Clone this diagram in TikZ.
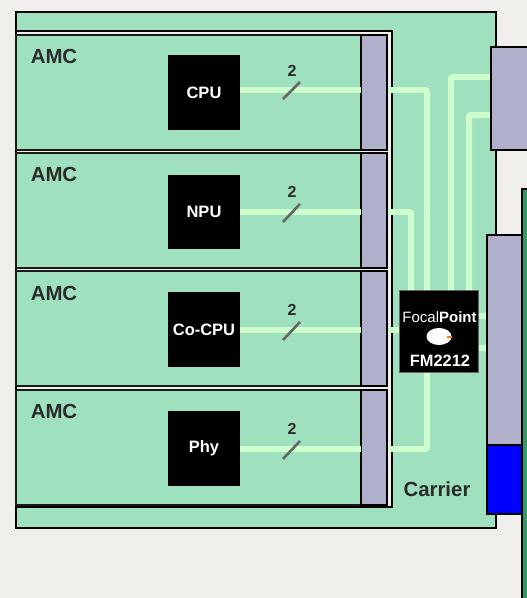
\documentclass[tikz,border=0pt]{standalone}
\usepackage{fontspec}
\setmainfont{Liberation Sans}
\definecolor{bgc}{HTML}{F0EFEB}
\definecolor{boardc}{HTML}{9FE0BF}
\definecolor{portc}{HTML}{B0B0CC}
\definecolor{tracec}{HTML}{CCFFCC}
\definecolor{darkg}{HTML}{339966}
\definecolor{inkc}{HTML}{2A2A2A}
\definecolor{slashc}{HTML}{666666}
\definecolor{beakc}{HTML}{F08010}
\tikzset{
  px/.style={x=1pt,y=-1pt},
  boardbox/.style={draw=black,line width=1.4pt,fill=boardc},
  amcbox/.style={draw=black!90,line width=1.4pt,fill=boardc},
  portbox/.style={draw=black,line width=1.2pt,fill=portc},
  trace/.style={draw=tracec,line width=6pt,rounded corners=2pt},
  slashline/.style={draw=slashc,line width=2.6pt},
  chipbox/.style={fill=black,text=white,inner sep=0pt,font=\fontsize{16.5}{18}\selectfont\bfseries,anchor=center},
  fmbox/.style={draw=slashc,line width=1.4pt,fill=black,minimum width=79pt,minimum height=82pt,inner sep=0pt},
  biglabel/.style={text=inkc,font=\fontsize{20.4}{24}\selectfont\bfseries,inner sep=0pt},
  numlabel/.style={text=inkc,font=\fontsize{16}{18}\selectfont\bfseries,inner sep=0pt},
}
\begin{document}
\begin{tikzpicture}[px]
\useasboundingbox (0,0) rectangle (527,598);
\fill[bgc] (0,0) rectangle (527,598);
% carrier
\path[boardbox] (16,12) rectangle (496,528);
% AMC tray
\draw[fill=bgc,draw=black,line width=1.2pt] (16,31) rectangle (392,507);
% AMC boards
\path[amcbox] (16,35) rectangle (387,150);
\path[amcbox] (16,153) rectangle (387,268);
\path[amcbox] (16,271) rectangle (387,386);
\path[amcbox] (16,390) rectangle (387,505);
% nodes
\node[chipbox,minimum width=72pt,minimum height=75pt] (cpu) at (204,92.5) {CPU};
\node[chipbox,minimum width=72pt,minimum height=74pt] (npu) at (204,212) {NPU};
\node[chipbox,minimum width=72pt,minimum height=75pt] (cocpu) at (204,329.5) {Co-CPU};
\node[chipbox,minimum width=72pt,minimum height=75pt] (phy) at (204,448.5) {Phy};
\coordinate (p1a) at (361,90);   \coordinate (p1b) at (388,90);
\coordinate (p2a) at (361,212);  \coordinate (p2b) at (388,212);
\coordinate (p3a) at (361,330);  \coordinate (p3b) at (388,330);
\coordinate (p4a) at (361,449);  \coordinate (p4b) at (388,449);
\coordinate (fmw) at (400,330);
% ports
\path[portbox] (361,35) rectangle (387,150);
\path[portbox] (361,153) rectangle (387,268);
\path[portbox] (361,271) rectangle (387,386);
\path[portbox] (361,390) rectangle (387,505);
% traces on AMC
\draw[trace] (cpu.east |- p1a) -- (p1a);
\draw[trace] (npu.east |- p2a) -- (p2a);
\draw[trace] (cocpu.east |- p3a) -- (p3a);
\draw[trace] (phy.east |- p4a) -- (p4a);
% traces on carrier
\draw[trace] (p1b) -- (427,90) -- (427,449) -- (p4b);
\draw[trace] (p2b) -- (411,212) -- (411,295);
\draw[trace] (p3b) -- (fmw);
\draw[trace] (451,295) -- (451,77) -- (491,77);
\draw[trace] (469,295) -- (469,115) -- (491,115);
\draw[trace,rounded corners=0pt] (478,316) -- (487,316);
\draw[trace,rounded corners=0pt] (478,347.5) -- (487,347.5);
% FM2212 chip
\node[fmbox] (fm) at (439,331.5) {};
% right ports
\path[portbox] (491,47) rectangle (530,150);
% line card edge
\fill[darkg] (521,189) rectangle (527,598);
\draw[black,line width=1.2pt] (527,189) -- (522,189) -- (522,598);
\path[portbox] (487,235) rectangle (522,445);
\draw[fill=blue,draw=black,line width=1.2pt] (487,445) rectangle (522,514);
% chip contents
\node[text=white,inner sep=0pt,font=\fontsize{15}{18}\selectfont] (logo) at (439.5,317.5) {Focal\textbf{Point}};
\fill[white] (439,336.5) ellipse (12.5pt and 8.5pt);
\fill[beakc] (447,335.5) rectangle (452,337.5);
\node[text=white,inner sep=0pt,font=\fontsize{16.4}{18}\selectfont\bfseries] (fmlabel) at (440,361) {FM2212};
% labels
\node[biglabel] (a1) at (54,56) {AMC};
\node[biglabel] (a2) at (54,174) {AMC};
\node[biglabel] (a3) at (54,293) {AMC};
\node[biglabel] (a4) at (54,411) {AMC};
\node[biglabel] (carrier) at (437,489) {Carrier};
\node[numlabel] (n1) at (292,71) {2};
\node[numlabel] (n2) at (292,192) {2};
\node[numlabel] (n3) at (292,310) {2};
\node[numlabel] (n4) at (292,429) {2};
\draw[slashline] (283,99) -- (300,82);
\draw[slashline] (283,222) -- (300,204);
\draw[slashline] (283,340) -- (300,322);
\draw[slashline] (283,459) -- (300,441);
\end{tikzpicture}
\end{document}
